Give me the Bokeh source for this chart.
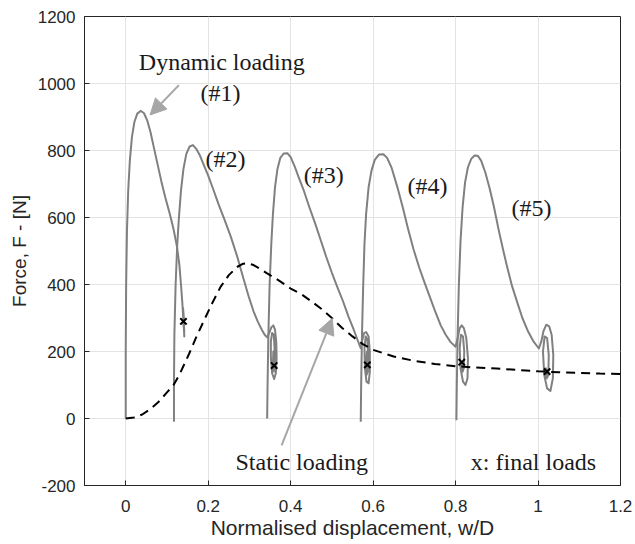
from bokeh.plotting import figure
from bokeh.models import (Range1d, FixedTicker, NumeralTickFormatter,
                          Label, Arrow, NormalHead)
from bokeh.embed import file_html
from bokeh.resources import INLINE

# ---------------- data ----------------
x_ticks = [0, 0.2, 0.4, 0.6, 0.8, 1.0, 1.2]
y_ticks = [-200, 0, 200, 400, 600, 800, 1000, 1200]

# dynamic loading #1
c1_x = [0.000, 0.000, 0.001, 0.003, 0.006, 0.010, 0.015, 0.021, 0.028, 0.036, 0.044,
        0.052, 0.060, 0.068, 0.077, 0.086, 0.096, 0.106, 0.116, 0.124, 0.130, 0.134,
        0.137, 0.139, 0.141, 0.142, 0.141, 0.139, 0.140, 0.142, 0.140]
c1_y = [0, 200, 400, 560, 680, 770, 840, 885, 910, 918, 912,
        890, 855, 810, 760, 710, 660, 615, 565, 515, 460, 400,
        350, 310, 270, 245, 300, 330, 280, 260, 290]

# dynamic loading #2
c2_x = [0.117, 0.117, 0.118, 0.121, 0.125, 0.129, 0.134, 0.140, 0.147, 0.155, 0.163,
        0.171, 0.180, 0.190, 0.200, 0.212, 0.225, 0.240, 0.255, 0.270, 0.285, 0.298,
        0.310, 0.320, 0.330, 0.337, 0.343, 0.348, 0.353, 0.358, 0.362, 0.365, 0.366,
        0.364, 0.360, 0.355, 0.352, 0.352, 0.355, 0.359, 0.361, 0.361, 0.359, 0.357,
        0.358, 0.360]
c2_y = [-10, 100, 250, 400, 520, 600, 680, 745, 790, 812, 816,
        805, 785, 755, 725, 685, 640, 592, 542, 485, 420, 365,
        320, 290, 265, 250, 242, 255, 272, 278, 265, 230, 180,
        135, 118, 135, 180, 230, 255, 250, 210, 160, 140, 160,
        200, 158]

# dynamic loading #3
c3_x = [0.343, 0.344, 0.346, 0.349, 0.353, 0.357, 0.362, 0.368, 0.375, 0.383, 0.392,
        0.400, 0.410, 0.420, 0.432, 0.445, 0.460, 0.473, 0.487, 0.500, 0.513, 0.527,
        0.540, 0.553, 0.562, 0.570, 0.574, 0.578, 0.583, 0.589, 0.592, 0.592, 0.589,
        0.584, 0.580, 0.579, 0.582, 0.586, 0.588, 0.587, 0.584, 0.583, 0.585, 0.586]
c3_y = [0, 100, 250, 400, 520, 610, 690, 745, 778, 791, 792,
        780, 752, 718, 680, 632, 580, 532, 480, 435, 393, 350,
        305, 265, 235, 210, 235, 255, 258, 245, 200, 140, 105,
        110, 150, 210, 245, 235, 190, 140, 130, 160, 200, 160]

# dynamic loading #4
c4_x = [0.570, 0.571, 0.573, 0.576, 0.579, 0.583, 0.589, 0.596, 0.604, 0.614, 0.625,
        0.634, 0.645, 0.659, 0.672, 0.685, 0.698, 0.712, 0.725, 0.740, 0.752, 0.764,
        0.776, 0.788, 0.800, 0.805, 0.810, 0.815, 0.820, 0.826, 0.830, 0.829, 0.824,
        0.818, 0.812, 0.810, 0.813, 0.818, 0.821, 0.820, 0.817, 0.815]
c4_y = [-10, 100, 250, 400, 520, 610, 690, 740, 772, 788, 789,
        778, 748, 690, 630, 565, 505, 450, 405, 355, 315, 278,
        250, 228, 214, 240, 270, 278, 270, 240, 180, 120, 100,
        110, 150, 210, 250, 245, 200, 150, 140, 170]

# dynamic loading #5
c5_x = [0.802, 0.803, 0.805, 0.808, 0.812, 0.817, 0.823, 0.830, 0.838, 0.846, 0.854,
        0.862, 0.872, 0.883, 0.893, 0.905, 0.915, 0.925, 0.937, 0.950, 0.962, 0.975,
        0.988, 1.002, 1.008, 1.013, 1.020, 1.027, 1.033, 1.037, 1.036, 1.030, 1.022,
        1.015, 1.012, 1.016, 1.022, 1.026, 1.025, 1.021, 1.019, 1.022]
c5_y = [-5, 100, 250, 400, 530, 630, 705, 750, 775, 785, 784,
        770, 735, 685, 632, 560, 505, 453, 395, 345, 300, 262,
        232, 209, 230, 260, 280, 275, 250, 190, 120, 82, 90,
        130, 200, 245, 240, 190, 130, 120, 150, 140]

# static loading
static_x = [0.00, 0.02, 0.04, 0.06, 0.08, 0.10, 0.116, 0.13, 0.154, 0.17, 0.19, 0.21,
            0.23, 0.25, 0.271, 0.285, 0.295, 0.31, 0.325, 0.343, 0.37, 0.40, 0.425,
            0.45, 0.475, 0.50, 0.525, 0.55, 0.575, 0.60, 0.65, 0.70, 0.75, 0.80,
            0.85, 0.90, 0.95, 1.00, 1.05, 1.10, 1.15, 1.20]
static_y = [0, 3, 12, 28, 50, 78, 100, 130, 194, 240, 293, 345,
            393, 428, 453, 462, 464, 458, 447, 433, 413, 388, 372,
            350, 327, 300, 270, 245, 222, 205, 185, 172, 163, 156,
            152, 149, 145, 141, 138, 136, 134, 133]

# final loads
final_x = [0.140, 0.360, 0.586, 0.815, 1.022]
final_y = [290, 158, 160, 168, 140]

# ---------------- figure ----------------
TXT = "#262626"
CURVE = "#808080"
ARROW = "#a6a6a6"

p = figure(width=632, height=543,
           x_range=Range1d(-0.1, 1.2), y_range=Range1d(-200, 1200),
           output_backend="svg", toolbar_location=None,
           min_border_left=84, min_border_right=12, min_border_top=16, min_border_bottom=58)
p.background_fill_color = "white"
p.border_fill_color = "white"
p.outline_line_color = TXT
p.outline_line_width = 1

p.xaxis.ticker = FixedTicker(ticks=x_ticks)
p.yaxis.ticker = FixedTicker(ticks=y_ticks)
p.xaxis.formatter = NumeralTickFormatter(format="0.[0]")
p.yaxis.formatter = NumeralTickFormatter(format="0")
p.xgrid.grid_line_color = "#e3e3e3"
p.ygrid.grid_line_color = "#e3e3e3"

for ax in (p.xaxis[0], p.yaxis[0]):
    ax.major_tick_in = 5
    ax.major_tick_out = 0
    ax.minor_tick_line_color = None
    ax.axis_line_color = TXT
    ax.major_tick_line_color = TXT
    ax.major_label_text_color = TXT
    ax.major_label_text_font = "Liberation Sans"
    ax.major_label_text_font_size = "17px"
    ax.axis_label_text_font = "Liberation Sans"
    ax.axis_label_text_font_style = "normal"
    ax.axis_label_text_color = TXT

p.xaxis.axis_label = "Normalised displacement, w/D"
p.yaxis.axis_label = "Force, F - [N]"
p.xaxis.axis_label_text_font_size = "21px"
p.yaxis.axis_label_text_font_size = "19px"
p.xaxis.major_label_standoff = 14
p.xaxis.axis_label_standoff = 1
p.yaxis.major_label_standoff = 9
p.yaxis.axis_label_standoff = 5

# curves
for cx, cy in ((c1_x, c1_y), (c2_x, c2_y), (c3_x, c3_y), (c4_x, c4_y), (c5_x, c5_y)):
    p.line(cx, cy, line_color=CURVE, line_width=2, line_join="round")

p.line(static_x, static_y, line_color="black", line_width=2, line_dash="9 6")
p.scatter(final_x, final_y, marker="x", size=9, line_color="black", line_width=2)

# annotations
SERIF = "Liberation Serif"
def lab(x, y, t):
    p.add_layout(Label(x=x, y=y, text=t, text_font=SERIF, text_font_size="24px",
                       text_color="#1a1a1a", text_align="center", text_baseline="middle"))

lab(0.233, 1064, "Dynamic loading")
lab(0.230, 971, "(#1)")
lab(0.242, 774, "(#2)")
lab(0.480, 728, "(#3)")
lab(0.732, 693, "(#4)")
lab(0.984, 628, "(#5)")
lab(0.427, -131, "Static loading")
lab(0.989, -131, "x: final loads")

p.add_layout(Arrow(end=NormalHead(size=16, fill_color=ARROW, line_color=ARROW),
                   x_start=0.129, y_start=995, x_end=0.059, y_end=906,
                   line_color=ARROW, line_width=2))
p.add_layout(Arrow(end=NormalHead(size=16, fill_color=ARROW, line_color=ARROW),
                   x_start=0.378, y_start=-80, x_end=0.501, y_end=299,
                   line_color=ARROW, line_width=2))

open("out.html", "w").write(file_html(p, INLINE))
